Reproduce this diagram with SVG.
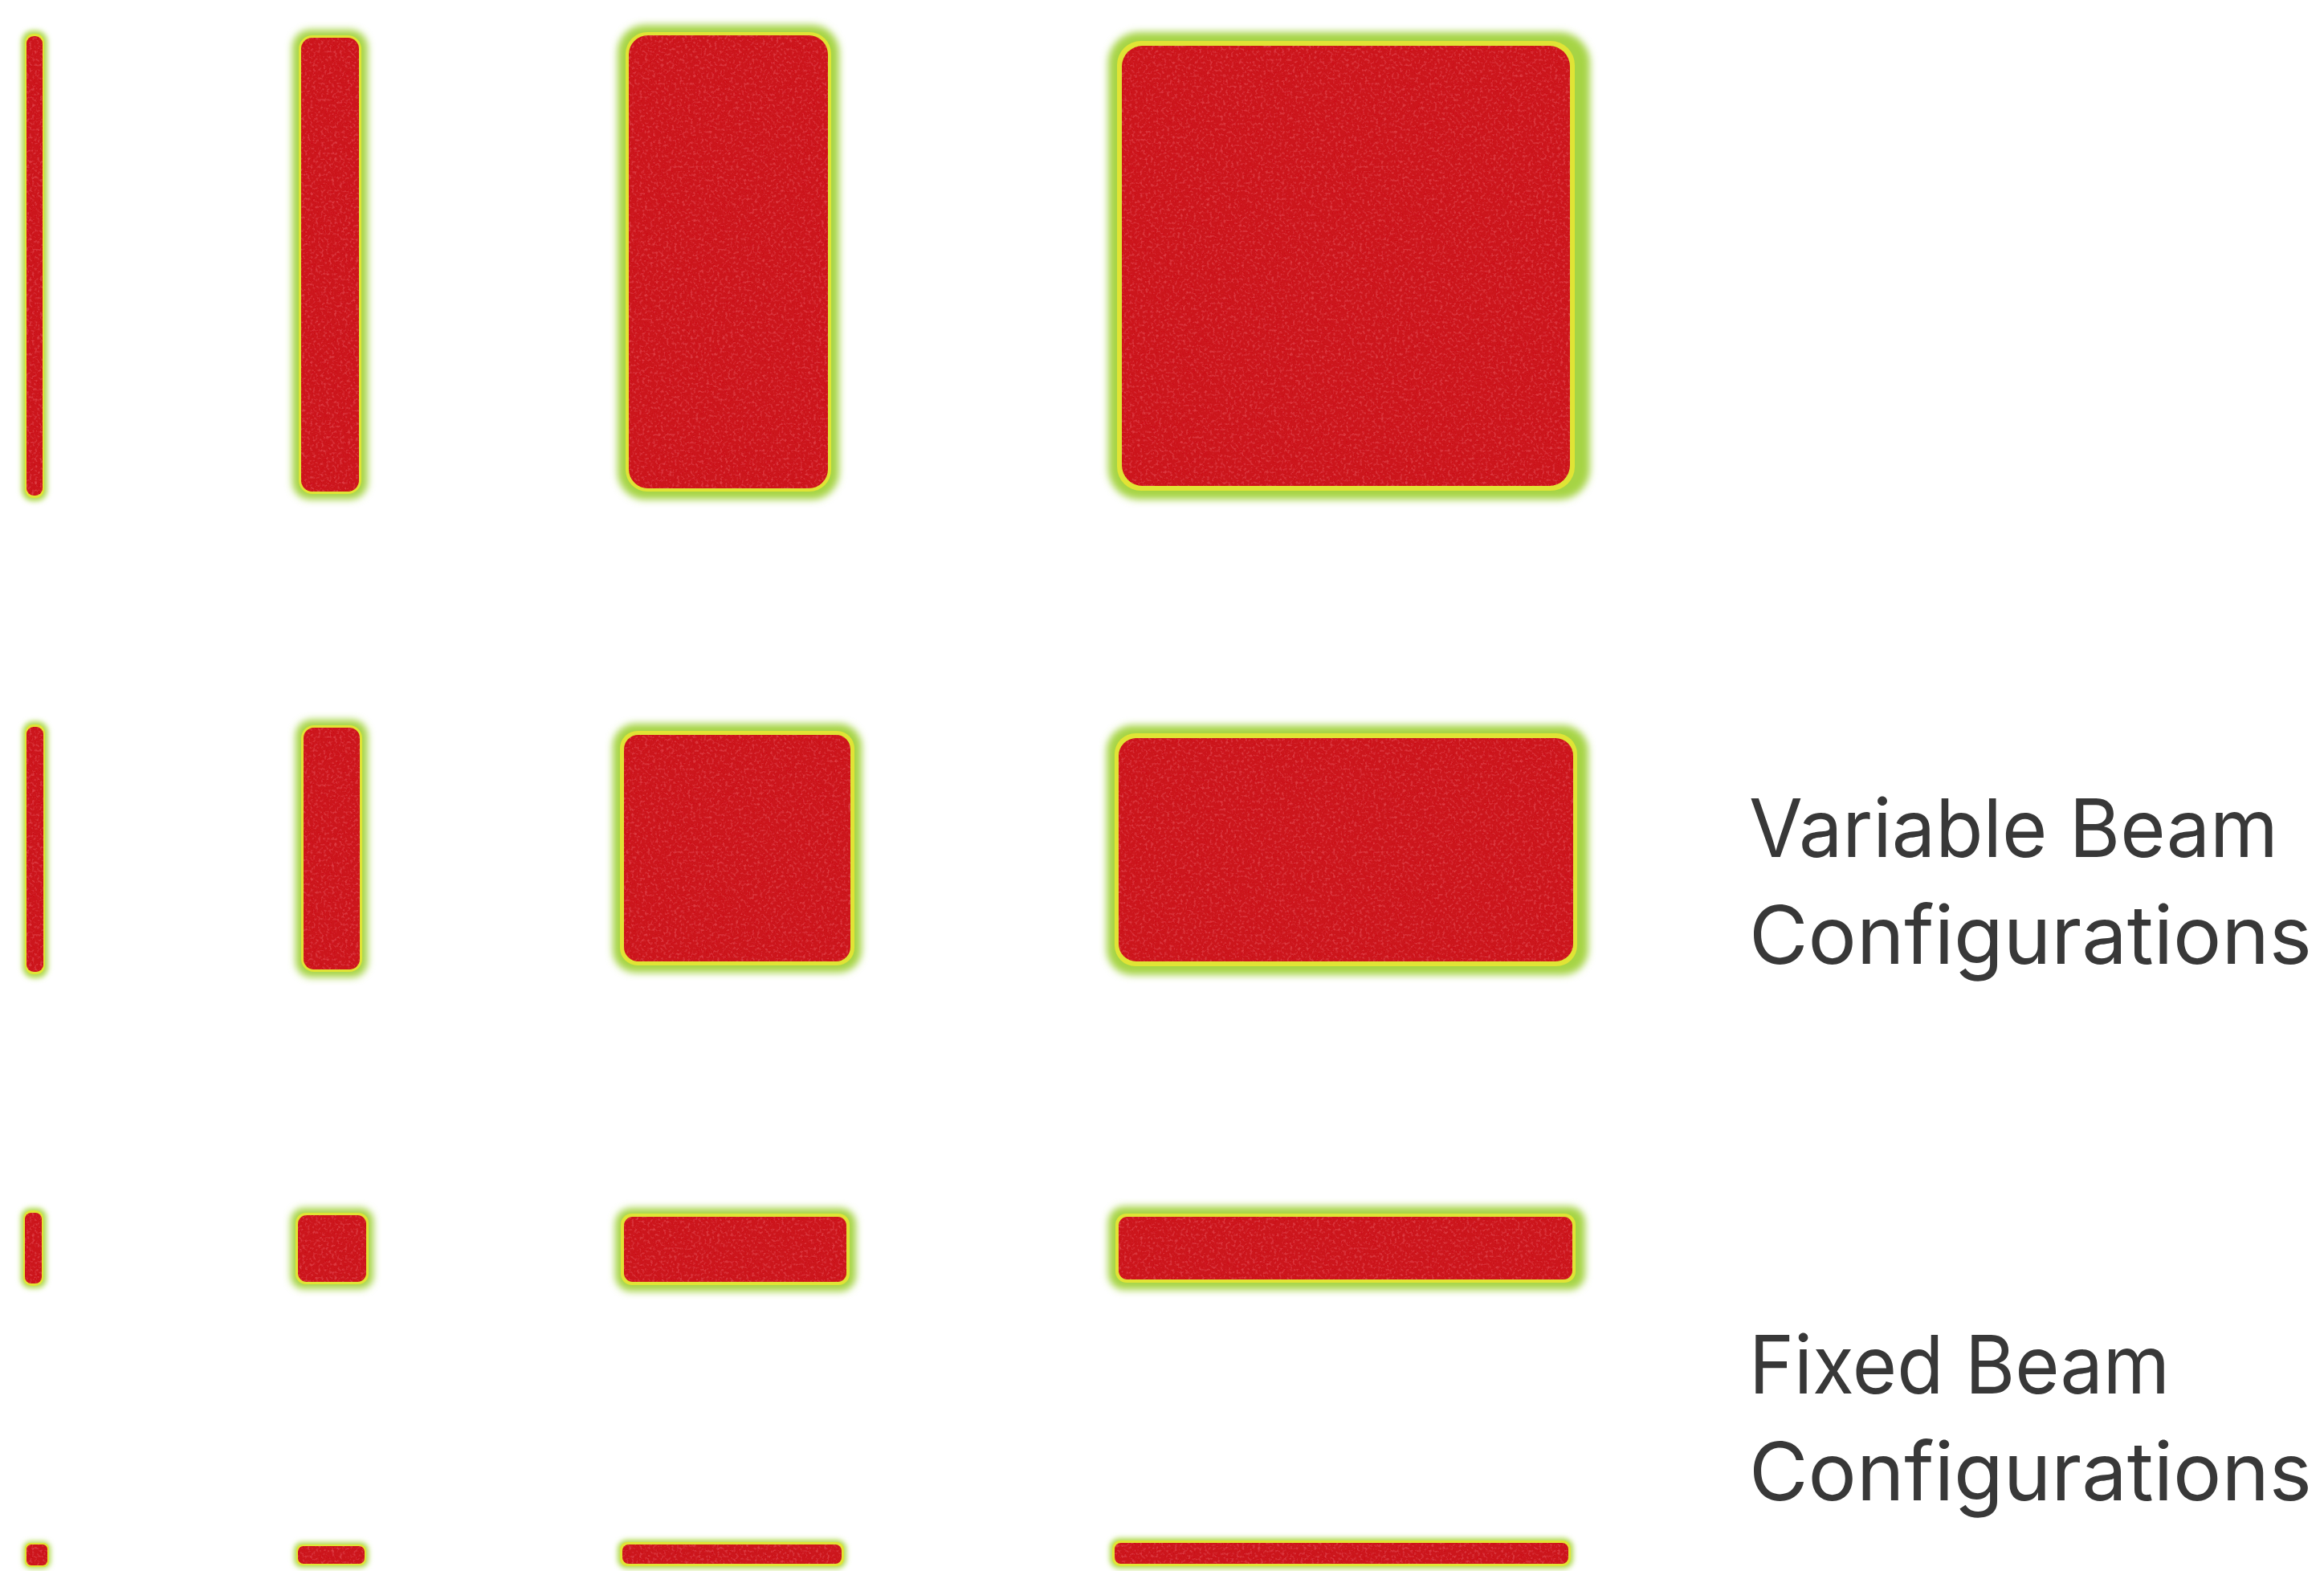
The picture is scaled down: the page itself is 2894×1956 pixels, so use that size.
<svg xmlns="http://www.w3.org/2000/svg" width="2894" height="1956" viewBox="0 0 2894 1956">
<defs>
<style>
.halo{fill:#a6d444;filter:url(#blur)}
.halo-s{fill:#b0da50;filter:url(#blurS)}
.rim{fill:#e0e435}
.core{fill:#cc121b;filter:url(#tex)}
.lbl{font-family:Inter,"Liberation Sans",sans-serif;font-size:100px;fill:#383838}
</style>
<filter id="blur" x="-20%" y="-20%" width="140%" height="140%"><feGaussianBlur stdDeviation="5"/></filter>
<filter id="blurS" x="-50%" y="-50%" width="200%" height="200%"><feGaussianBlur stdDeviation="3"/></filter>
<filter id="tex" x="0" y="0" width="100%" height="100%">
<feTurbulence type="fractalNoise" baseFrequency="0.3" numOctaves="2" seed="3" result="n"/>
<feColorMatrix in="n" type="matrix" values="0 0 0 0 0.9  0 0 0 0 0.1  0 0 0 0 0.12  0 0 0 1.2 -0.6" result="spots"/>
<feComposite in="spots" in2="SourceGraphic" operator="in" result="s2"/>
<feMerge><feMergeNode in="SourceGraphic"/><feMergeNode in="s2"/></feMerge>
</filter>
</defs>
<rect width="2894" height="1956" fill="#ffffff"/>

<!-- Row 1 -->
<g id="a1">
<rect class="halo-s" x="27" y="38" width="32" height="586" rx="14"/>
<rect class="rim" x="31" y="42" width="24" height="578" rx="11"/>
<rect class="core" x="33" y="45" width="20" height="572" rx="9"/>
</g>
<g id="a2">
<rect class="halo" x="364" y="37" width="94" height="585" rx="22"/>
<rect class="rim" x="372" y="44" width="78" height="571" rx="17"/>
<rect class="core" x="375" y="47" width="72" height="565" rx="14"/>
</g>
<g id="a3">
<rect class="halo" x="769" y="31" width="276" height="591" rx="34"/>
<rect class="rim" x="779" y="40" width="256" height="572" rx="27"/>
<rect class="core" x="783" y="44" width="248" height="564" rx="24"/>
</g>
<g id="a4">
<rect class="halo" x="1380" y="40" width="600" height="582" rx="38"/>
<rect class="rim" x="1391" y="51" width="570" height="560" rx="30"/>
<rect class="core" x="1397" y="57" width="558" height="548" rx="26"/>
</g>

<!-- Row 2 -->
<g id="b1">
<rect class="halo-s" x="28" y="898" width="32" height="320" rx="14"/>
<rect class="rim" x="31" y="902" width="25" height="311" rx="11"/>
<rect class="core" x="33" y="905" width="21" height="305" rx="9"/>
</g>
<g id="b2">
<rect class="halo" x="368" y="896" width="90" height="321" rx="20"/>
<rect class="rim" x="375" y="903" width="76" height="307" rx="16"/>
<rect class="core" x="378" y="906" width="70" height="301" rx="13"/>
</g>
<g id="b3">
<rect class="halo" x="763" y="901" width="310" height="310" rx="28"/>
<rect class="rim" x="772" y="910" width="292" height="292" rx="22"/>
<rect class="core" x="777" y="915" width="282" height="282" rx="18"/>
</g>
<g id="b4">
<rect class="halo" x="1378" y="903" width="600" height="311" rx="32"/>
<rect class="rim" x="1388" y="913" width="576" height="290" rx="26"/>
<rect class="core" x="1393" y="919" width="566" height="278" rx="22"/>
</g>

<!-- Row 3 -->
<g id="c1">
<rect class="halo-s" x="26" y="1504" width="32" height="100" rx="12"/>
<rect class="rim" x="29" y="1507" width="25" height="94" rx="10"/>
<rect class="core" x="31" y="1510" width="21" height="88" rx="8"/>
</g>
<g id="c2">
<rect class="halo" x="362" y="1504" width="103" height="101" rx="16"/>
<rect class="rim" x="368" y="1510" width="91" height="89" rx="13"/>
<rect class="core" x="371" y="1513" width="85" height="83" rx="11"/>
</g>
<g id="c3">
<rect class="halo" x="766" y="1504" width="300" height="104" rx="20"/>
<rect class="rim" x="773" y="1511" width="285" height="89" rx="14"/>
<rect class="core" x="777" y="1515" width="277" height="81" rx="11"/>
</g>
<g id="c4">
<rect class="halo" x="1380" y="1502" width="594" height="104" rx="20"/>
<rect class="rim" x="1389" y="1511" width="573" height="86" rx="14"/>
<rect class="core" x="1393" y="1515" width="565" height="78" rx="11"/>
</g>

<!-- Row 4 -->
<g id="d1">
<rect class="halo-s" x="29" y="1919" width="34" height="34" rx="9"/>
<rect class="rim" x="31" y="1921" width="30" height="30" rx="7"/>
<rect class="core" x="33" y="1923" width="26" height="26" rx="6"/>
</g>
<g id="d2">
<rect class="halo-s" x="366" y="1920" width="93" height="32" rx="10"/>
<rect class="rim" x="369" y="1923" width="87" height="26" rx="8"/>
<rect class="core" x="371" y="1925" width="83" height="22" rx="7"/>
</g>
<g id="d3">
<rect class="halo-s" x="769" y="1917" width="285" height="36" rx="12"/>
<rect class="rim" x="772" y="1920" width="279" height="30" rx="9"/>
<rect class="core" x="775" y="1923" width="273" height="24" rx="8"/>
</g>
<g id="d4">
<rect class="halo-s" x="1382" y="1915" width="577" height="38" rx="12"/>
<rect class="rim" x="1385" y="1918" width="571" height="32" rx="10"/>
<rect class="core" x="1388" y="1921" width="565" height="26" rx="8"/>
</g>

<!-- Labels -->
<g id="label-variable">
<text class="lbl" x="2178" y="1067" textLength="659" lengthAdjust="spacingAndGlyphs">Variable Beam</text>
<text class="lbl" x="2178" y="1200" textLength="701" lengthAdjust="spacingAndGlyphs">Configurations</text>
</g>
<g id="label-fixed">
<text class="lbl" x="2178" y="1735" textLength="524" lengthAdjust="spacingAndGlyphs">Fixed Beam</text>
<text class="lbl" x="2178" y="1868" textLength="701" lengthAdjust="spacingAndGlyphs">Configurations</text>
</g>
</svg>
